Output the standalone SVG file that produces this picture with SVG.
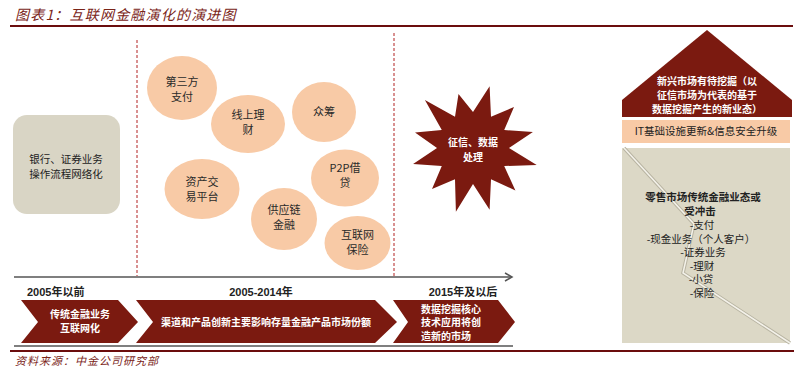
<svg xmlns="http://www.w3.org/2000/svg" width="806" height="371" viewBox="0 0 806 371">
<defs>
<style>
.cjk{font-family:"Noto Sans CJK SC","Liberation Sans",sans-serif;}
.title{font-size:14px;font-style:italic;fill:#7a2418;letter-spacing:1.2px;}
.src{font-size:11px;font-style:italic;fill:#7a2418;letter-spacing:1px;}
.circ{fill:#f8caa6;}
.ct{font-size:11px;fill:#2a2a2a;text-anchor:middle;}
.wt{font-size:10px;fill:#ffffff;font-weight:bold;}
.mar{fill:#7b1a10;}
.dash{stroke:#b22222;stroke-width:1;stroke-dasharray:3,2;fill:none;}
.gline{stroke:#7f7f7f;stroke-width:2;fill:none;}
.yr{font-family:"Liberation Sans","Noto Sans CJK SC",sans-serif;font-size:11px;font-weight:bold;fill:#222;}
.gt{font-size:10.5px;fill:#222;text-anchor:middle;}
</style>
<marker id="arr" markerWidth="10" markerHeight="10" refX="8" refY="5" orient="auto" markerUnits="userSpaceOnUse">
<path d="M1,1 L8,5 L1,9" fill="none" stroke="#555" stroke-width="1.5"/>
</marker>
</defs>
<rect width="806" height="371" fill="#ffffff"/>

<g id="header">
<text class="cjk title" x="15" y="20">图表1：互联网金融演化的演进图</text>
<line x1="10" y1="26" x2="793" y2="26" stroke="#6b0d0d" stroke-width="2"/>
</g>

<g id="connectors">
<line class="dash" x1="137" y1="40" x2="137" y2="277"/>
<line class="dash" x1="394" y1="33" x2="394" y2="277"/>
<line class="gline" x1="14" y1="277" x2="512" y2="277" marker-end="url(#arr)"/>
<line class="gline" x1="14" y1="346" x2="513" y2="346"/>
</g>

<g id="node-left">
<rect x="13" y="115" width="107" height="99" rx="14" ry="14" fill="#d9d5c5"/>
<text class="cjk gt" x="66" y="163" font-size="11">银行、证券业务</text>
<text class="cjk gt" x="66" y="178" font-size="11">操作流程网络化</text>
</g>

<g id="node-zfzf">
<ellipse class="circ" cx="182" cy="88" rx="35" ry="32"/>
<text class="cjk ct" x="182" y="86">第三方</text>
<text class="cjk ct" x="182" y="101">支付</text>
</g>
<g id="node-xslc">
<ellipse class="circ" cx="248" cy="124" rx="37" ry="29"/>
<text class="cjk ct" x="248" y="119">线上理</text>
<text class="cjk ct" x="248" y="134">财</text>
</g>
<g id="node-zc">
<ellipse class="circ" cx="324" cy="112" rx="32" ry="30"/>
<text class="cjk ct" x="324" y="116">众筹</text>
</g>
<g id="node-zcjy">
<ellipse class="circ" cx="202" cy="189" rx="37.5" ry="30"/>
<text class="cjk ct" x="202" y="186">资产交</text>
<text class="cjk ct" x="202" y="201">易平台</text>
</g>
<g id="node-p2p">
<ellipse class="circ" cx="345" cy="178" rx="34" ry="28.5"/>
<text class="cjk ct" x="345" y="172">P2P借</text>
<text class="cjk ct" x="345" y="187">贷</text>
</g>
<g id="node-gyl">
<ellipse class="circ" cx="284" cy="219" rx="33" ry="31"/>
<text class="cjk ct" x="284" y="214">供应链</text>
<text class="cjk ct" x="284" y="229">金融</text>
</g>
<g id="node-hlwbx">
<ellipse class="circ" cx="357.5" cy="243" rx="33" ry="27"/>
<text class="cjk ct" x="357.5" y="239">互联网</text>
<text class="cjk ct" x="357.5" y="254">保险</text>
</g>

<g id="node-star">
<polygon class="mar" points="489.6,86.2 491,116.8 514,107 504.2,130 532.9,132 509,148 536.7,165.1 504.2,166 515.4,190.4 491,179.2 489.6,209.8 473,184 455.9,211.7 455,179.2 432,189 441.8,166 413.1,164 437,148 415,132.5 441.8,130 424.9,99.9 455,116.8 458.5,93.9 473,112"/>
<text class="cjk wt" x="473" y="146" text-anchor="middle" font-size="11">征信、数据</text>
<text class="cjk wt" x="473" y="161" text-anchor="middle" font-size="11">处理</text>
</g>

<g id="node-house">
<polygon class="mar" points="707,30 792,100 792,117 622,117 622,100"/>
<text class="cjk wt" x="707" y="85" text-anchor="middle" font-size="10.5">新兴市场有待挖掘（以</text>
<text class="cjk wt" x="707" y="99" text-anchor="middle" font-size="10.5">征信市场为代表的基于</text>
<text class="cjk wt" x="707" y="113" text-anchor="middle" font-size="10.5">数据挖掘产生的新业态）</text>
<rect x="622" y="120" width="168" height="23" fill="#f8caa6"/>
<text class="cjk" x="706" y="135" text-anchor="middle" font-size="10.5" fill="#222">IT基础设施更新&amp;信息安全升级</text>
<rect x="622" y="148" width="168" height="195" fill="#dcd8c6"/>
<polyline points="624,148 694,224 683,273 790,343" fill="none" stroke="#b8b4a2" stroke-width="3.5"/>
<polyline points="624,148 694,224 683,273 790,343" fill="none" stroke="#f4f2ea" stroke-width="1.5"/>
<text class="cjk gt" x="703" y="201" font-weight="bold" font-size="11">零售市场传统金融业态或</text>
<text class="cjk gt" x="700" y="215" font-weight="bold" font-size="11">受冲击</text>
<text class="cjk gt" x="702" y="229">-支付</text>
<text class="cjk gt" x="701" y="242.5">-现金业务（个人客户）</text>
<text class="cjk gt" x="703" y="256">-证券业务</text>
<text class="cjk gt" x="702" y="269.5">-理财</text>
<text class="cjk gt" x="701" y="283">-小贷</text>
<text class="cjk gt" x="702" y="296.5">-保险</text>
</g>

<g id="timeline-labels">
<text class="yr" x="27" y="296">2005年以前</text>
<text class="yr" x="261" y="296" text-anchor="middle">2005-2014年</text>
<text class="yr" x="463" y="296" text-anchor="middle">2015年及以后</text>
</g>

<g id="node-chev1">
<polygon class="mar" points="21,300 118,300 138,322 118,343 21,343 38,322"/>
<text class="cjk wt" x="80" y="318" text-anchor="middle">传统金融业务</text>
<text class="cjk wt" x="80" y="332" text-anchor="middle">互联网化</text>
</g>
<g id="node-chev2">
<polygon class="mar" points="136,300 375,300 397,322 375,343 136,343 153,322"/>
<text class="cjk wt" x="266" y="326" text-anchor="middle" font-size="9.6">渠道和产品创新主要影响存量金融产品市场份额</text>
</g>
<g id="node-chev3">
<polygon class="mar" points="393,300 498,300 515,322 498,343 393,343 408,322"/>
<text class="cjk wt" x="421" y="312.5" font-size="9">数据挖掘核心</text>
<text class="cjk wt" x="421" y="326" font-size="9">技术应用将创</text>
<text class="cjk wt" x="421" y="339.5" font-size="9">造新的市场</text>
</g>

<g id="footer">
<line x1="10" y1="351" x2="794" y2="351" stroke="#6b0d0d" stroke-width="2"/>
<text class="cjk src" x="15" y="365">资料来源：中金公司研究部</text>
</g>
</svg>
